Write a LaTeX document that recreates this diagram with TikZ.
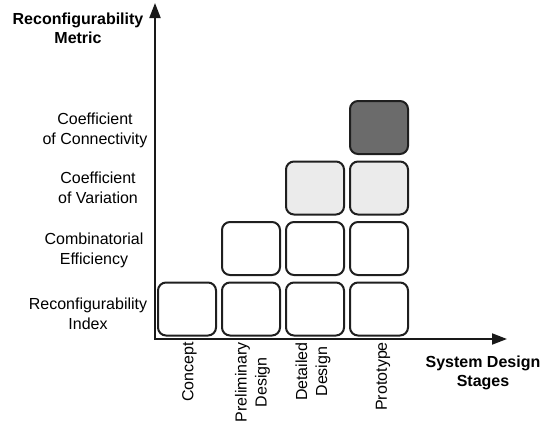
\documentclass[tikz,border=0pt]{standalone}
\usepackage{fontspec}
\setmainfont{Liberation Sans}
\usetikzlibrary{arrows.meta}
\begin{document}
\begin{tikzpicture}[x=1pt,y=-1pt,
  stagebox/.style={draw=black!88, line width=2pt, rounded corners=8pt,
    minimum width=58pt, minimum height=53pt, inner sep=0pt},
  lightbox/.style={stagebox, fill=black!8},
  darkbox/.style={stagebox, fill=black!58},
  metric/.style={align=center, inner sep=0pt, font=\fontsize{16}{20}\selectfont},
  stage/.style={rotate=90, anchor=east, align=center, inner sep=0pt,
    font=\fontsize{16}{20}\selectfont},
  axistitle/.style={align=center, inner sep=0pt, font=\fontsize{16}{19}\selectfont\bfseries},
  axisline/.style={line width=2pt, draw=black!90,
    {Triangle[length=15pt,width=11pt]}-{Triangle[length=15pt,width=11pt]}}
]
\useasboundingbox (0,0) rectangle (542,423);

% axes
\coordinate (origin) at (155,339);
\coordinate (ytip) at (155,3);
\coordinate (xtip) at (507,339);
\draw[axisline] (ytip) -- (origin) -- (xtip);

\node[axistitle] (ytitle) at (78,28.5) {Reconfigurability\\Metric};
\node[axistitle] (xtitle) at (483,373) {System Design\\Stages};

% metric labels
\node[metric] (m1) at (88,314) {Reconfigurability\\Index};
\node[metric] (m2) at (94,250.5) {Combinatorial\\Efficiency};
\node[metric] (m3) at (98,188) {Coefficient\\of Variation};
\node[metric] (m4) at (95,130.5) {Coefficient\\of Connectivity};

% design stage labels
\node[stage] (s1) at (189.5,342) {Concept};
\node[stage] (s2) at (252.5,342) {Preliminary\\Design};
\node[stage] (s3) at (313,342) {Detailed\\Design};
\node[stage] (s4) at (383,342) {Prototype};

% metric availability per stage
\node[stagebox] (b11) at (187,309) {};
\node[stagebox] (b21) at (251,309) {};
\node[stagebox] (b31) at (315,309) {};
\node[stagebox] (b41) at (379,309) {};
\node[stagebox] (b22) at (251,248.5) {};
\node[stagebox] (b32) at (315,248.5) {};
\node[stagebox] (b42) at (379,248.5) {};
\node[lightbox] (b33) at (315,188) {};
\node[lightbox] (b43) at (379,188) {};
\node[darkbox] (b44) at (379,127.5) {};
\end{tikzpicture}
\end{document}
